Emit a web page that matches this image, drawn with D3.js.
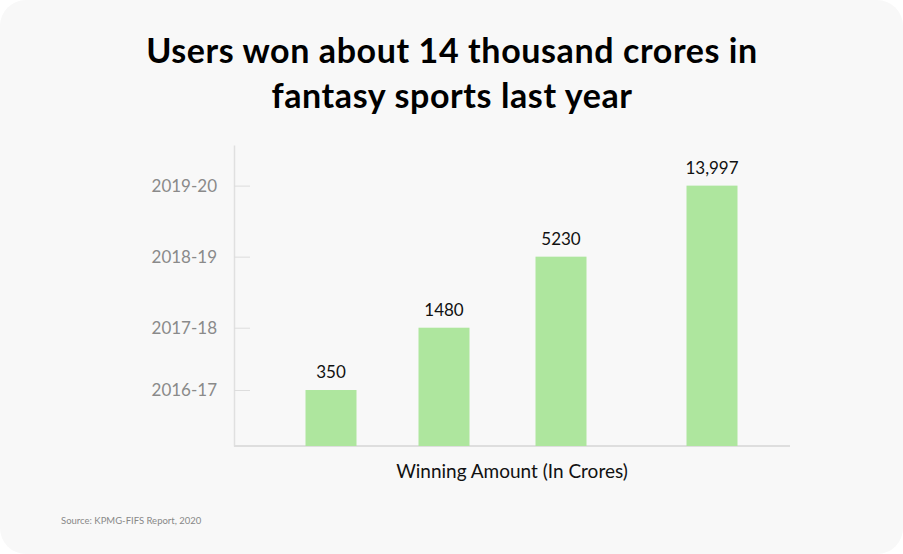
<!DOCTYPE html>
<html>
<head>
<script src="https://d3js.org/d3.v7.min.js"></script>
<style>
  body { margin: 0; background: #ffffff; }
  text { font-family: "Lato", "Noto Sans", sans-serif; }
</style>
</head>
<body>
<div class="chart"></div>
<script>
  var years = ["2016-17", "2017-18", "2018-19", "2019-20"];
  var amounts = ["350", "1480", "5230", "13,997"];
  // bar height as % of the axis (the original is not to scale)
  var barLevels = [18.6, 39.3, 62.9, 86.5];
  var barX = [331, 444, 561, 712];
  var titleLines = ["Users won about 14 thousand crores in", "fantasy sports last year"];

  var w = 903, h = 554;
  var svg = d3.select(".chart").append("svg")
      .attr("width", w)
      .attr("height", h);

  svg.append("rect")
      .attr("width", w).attr("height", h)
      .attr("rx", 26).attr("ry", 26)
      .attr("fill", "#f8f8f8");

  svg.append("g").selectAll("text")
      .data(titleLines)
      .enter().append("text")
      .attr("x", 452)
      .attr("y", function(d, i) { return 63 + i * 45; })
      .attr("text-anchor", "middle")
      .attr("font-size", 34)
      .attr("font-weight", "bold")
      .attr("letter-spacing", 0.6)
      .attr("fill", "#000")
      .text(function(d) { return d; });

  var pLeft = 234, pRight = 790, pTop = 145, pBottom = 446;

  var x = d3.scaleLinear().domain([pLeft, pRight]).range([pLeft, pRight]);
  var y = d3.scaleLinear().domain([0, 100]).range([pBottom, pTop]);
  var barW = 51;

  // y axis: year labels sit at each bar's top
  var yAxis = d3.axisLeft(y)
      .tickValues(barLevels)
      .tickFormat(function(d, i) { return years[i]; })
      .tickSize(0);
  var gy = svg.append("g")
      .attr("transform", "translate(" + pLeft + ",0)")
      .call(yAxis);
  gy.select(".domain").attr("stroke", "#e0e0e0").attr("stroke-width", 1.5);
  gy.selectAll(".tick text")
      .attr("x", -17)
      .attr("font-size", 17)
      .attr("fill", "#8a8a8a")
      .style("font-family", "Lato, sans-serif");
  gy.selectAll(".tick").append("line")
      .attr("x1", 0).attr("x2", 16)
      .attr("stroke", "#dddddd");

  svg.append("line")
      .attr("x1", pLeft).attr("x2", pRight)
      .attr("y1", pBottom).attr("y2", pBottom)
      .attr("stroke", "#dedede")
      .attr("stroke-width", 2);

  svg.append("g").selectAll("rect")
      .data(barLevels)
      .enter().append("rect")
      .attr("x", function(d, i) { return x(barX[i]) - barW / 2; })
      .attr("y", function(d) { return y(d); })
      .attr("width", barW)
      .attr("height", function(d) { return pBottom - y(d); })
      .attr("fill", "#aee69e");

  svg.append("g").selectAll("text")
      .data(barLevels)
      .enter().append("text")
      .attr("x", function(d, i) { return x(barX[i]); })
      .attr("y", function(d) { return y(d) - 12; })
      .attr("text-anchor", "middle")
      .attr("font-size", 17)
      .attr("fill", "#111")
      .text(function(d, i) { return amounts[i]; });

  svg.append("text")
      .attr("x", 512).attr("y", 478)
      .attr("text-anchor", "middle")
      .attr("font-size", 19)
      .attr("fill", "#111")
      .text("Winning Amount (In Crores)");

  svg.append("text")
      .attr("x", 61).attr("y", 524)
      .attr("font-size", 9.5)
      .attr("fill", "#888")
      .text("Source: KPMG-FIFS Report, 2020");
</script>
</body>
</html>
